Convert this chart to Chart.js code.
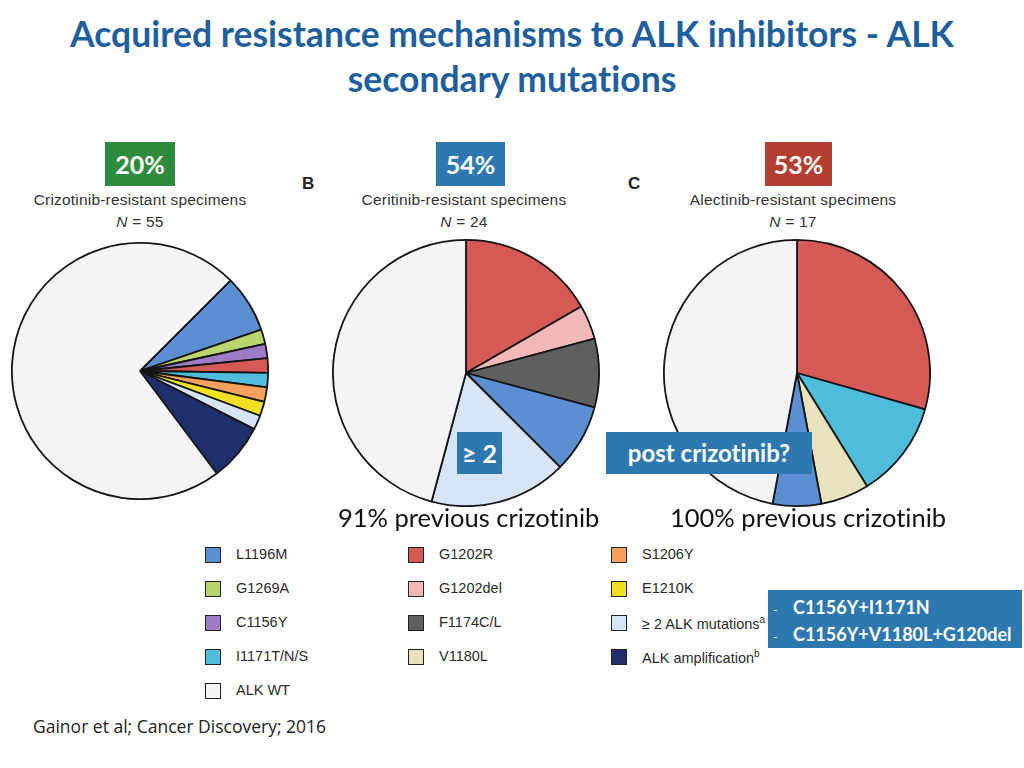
<!DOCTYPE html>
<html>
<head>
<meta charset="utf-8">
<script src="https://cdn.jsdelivr.net/npm/chart.js@4"></script>
<style>
  body { margin: 0; width: 1024px; height: 768px; background: #fff; position: relative; overflow: hidden; font-variant-ligatures: none; font-feature-settings: "liga" 0; }
  .abs { position: absolute; }
  #title { position: absolute; left: 0; top: 11px; width: 1024px; text-align: center; font-family: Lato, sans-serif; font-weight: bold;
           font-size: 35.5px; line-height: 45px; color: #1f5f9e; }
  .badge { color: #fff; font-family: Lato, sans-serif; font-weight: bold; font-size: 25px; height: 44px; line-height: 44px; text-align: center; }
  .sub { font-family: "Liberation Sans", Arial, sans-serif; font-size: 15.5px; letter-spacing: 0.2px; color: #333; text-align: center; line-height: 22px; width: 280px; }
  .letter { font-family: "Liberation Sans", Arial, sans-serif; font-weight: bold; font-size: 17px; color: #222; }
  .note { font-family: Lato, sans-serif; font-size: 25.5px; color: #111; }
  .leg { font-family: "Liberation Sans", Arial, sans-serif; font-size: 14.5px; color: #2a2a2a; }
  .sw { width: 16px; height: 16px; border: 1.5px solid #222; box-sizing: border-box; }
  canvas { position: absolute; }
</style>
</head>
<body>
<div id="title">Acquired resistance mechanisms to ALK inhibitors - ALK<br>secondary mutations</div>

<div class="abs badge" style="left:105px;top:142px;width:70px;background:#2f8c3f;">20%</div>
<div class="abs badge" style="left:436px;top:142px;width:69px;background:#2e78b0;">54%</div>
<div class="abs badge" style="left:765px;top:142px;width:67px;background:#b43e30;">53%</div>

<div class="abs sub" style="left:0px;top:189px;">Crizotinib-resistant specimens<br><i>N</i> = 55</div>
<div class="abs sub" style="left:324px;top:189px;">Ceritinib-resistant specimens<br><i>N</i> = 24</div>
<div class="abs sub" style="left:653px;top:189px;">Alectinib-resistant specimens<br><i>N</i> = 17</div>
<div class="abs letter" style="left:302px;top:174px;">B</div>
<div class="abs letter" style="left:628px;top:174px;">C</div>

<canvas id="pieA" class="abs" width="258" height="258" style="left:11px;top:242px;"></canvas>
<canvas id="pieB" class="abs" width="268" height="268" style="left:332px;top:239px;"></canvas>
<canvas id="pieC" class="abs" width="268" height="268" style="left:663px;top:239px;"></canvas>

<div class="abs badge" style="left:457px;top:432px;width:45px;height:42px;line-height:42px;background:#2e78b0;">≥ 2</div>
<div class="abs badge" style="left:606px;top:432px;width:206px;height:42px;line-height:42px;background:#2e78b0;font-size:24px;">post crizotinib?</div>

<div class="abs note" style="left:338px;top:502px;">91% previous crizotinib</div>
<div class="abs note" style="left:670px;top:502px;">100% previous crizotinib</div>

<div id="legend"></div>

<div class="abs" style="left:768px;top:590px;width:254px;height:58px;background:#2e78b0;color:#fff;font-family:Lato,sans-serif;font-weight:bold;font-size:18px;line-height:24px;padding-top:5px;box-sizing:border-box;">
  <div><span style="display:inline-block;width:25px;padding-left:5px;box-sizing:border-box;font-weight:normal;font-size:12px;">-</span>C1156Y+I1171N</div>
  <div><span style="display:inline-block;width:25px;padding-left:5px;box-sizing:border-box;font-weight:normal;font-size:12px;">-</span>C1156Y+V1180L+G120del</div>
</div>

<div class="abs" style="left:33px;top:714px;font-family:'Open Sans',sans-serif;font-size:17.5px;color:#222;">Gainor et al; Cancer Discovery; 2016</div>

<script>
// mutation colours (shared by all three pies and the legend)
var colorOf = {
  "L1196M": "#5b8fd2",
  "G1269A": "#b8d66c",
  "C1156Y": "#9c7cc4",
  "I1171T/N/S": "#4dbddb",
  "ALK WT": "#f3f4f5",
  "G1202R": "#d55a55",
  "G1202del": "#f3b8b8",
  "F1174C/L": "#5f5f5f",
  "V1180L": "#e9e3bd",
  "S1206Y": "#f4a15c",
  "E1210K": "#f0e024",
  "≥ 2 ALK mutations": "#d5e5f6",
  "ALK amplification": "#1f2e6c"
};

// A: crizotinib, N = 55 (slices clockwise, starting at ~45 deg)
var crizLabels = ["L1196M", "G1269A", "C1156Y", "G1202R", "I1171T/N/S", "S1206Y", "E1210K", "≥ 2 ALK mutations", "ALK amplification", "ALK WT"];
var crizValues = [4, 1, 1, 1, 1, 1, 1, 1, 4, 40];

// B: ceritinib, N = 24
var ceriLabels = ["G1202R", "G1202del", "F1174C/L", "L1196M", "≥ 2 ALK mutations", "ALK WT"];
var ceriValues = [4, 1, 2, 2, 4, 11];

// C: alectinib, N = 17
var alecLabels = ["G1202R", "I1171T/N/S", "V1180L", "L1196M", "ALK WT"];
var alecValues = [5, 2, 1, 1, 8];

// legend columns
var legendCol1 = ["L1196M", "G1269A", "C1156Y", "I1171T/N/S", "ALK WT"];
var legendCol2 = ["G1202R", "G1202del", "F1174C/L", "V1180L"];
var legendCol3 = ["S1206Y", "E1210K", "≥ 2 ALK mutations", "ALK amplification"];
var legendSup = { "≥ 2 ALK mutations": "a", "ALK amplification": "b" };

function makePie(id, labels, values, rotation) {
  var ctx = document.getElementById(id).getContext('2d');
  return new Chart(ctx, {
    type: 'pie',
    data: {
      labels: labels,
      datasets: [{
        data: values,
        backgroundColor: labels.map(function (l) { return colorOf[l]; }),
        borderColor: '#151515',
        borderWidth: 1.8
      }]
    },
    options: {
      responsive: false,
      animation: false,
      rotation: rotation,
      plugins: { legend: { display: false }, tooltip: { enabled: false } }
    }
  });
}

makePie('pieA', crizLabels, crizValues, 45);
makePie('pieB', ceriLabels, ceriValues, 0);
makePie('pieC', alecLabels, alecValues, 0);

// build the legend
function legendColumn(items, x) {
  var legend = document.getElementById("legend");
  for (var i = 0; i < items.length; i++) {
    var y = 547 + i * 34;
    var sw = document.createElement("DIV");
    sw.className = "abs sw";
    sw.style.left = x + "px";
    sw.style.top = y + "px";
    sw.style.background = colorOf[items[i]];
    legend.appendChild(sw);

    var txt = document.createElement("DIV");
    txt.className = "abs leg";
    txt.style.left = (x + 31) + "px";
    txt.style.top = (y - 1) + "px";
    txt.textContent = items[i];
    if (legendSup[items[i]]) {
      var sup = document.createElement("SUP");
      sup.style.fontSize = "10px";
      sup.textContent = legendSup[items[i]];
      txt.appendChild(sup);
    }
    legend.appendChild(txt);
  }
}
legendColumn(legendCol1, 205);
legendColumn(legendCol2, 408);
legendColumn(legendCol3, 611);
</script>
</body>
</html>
